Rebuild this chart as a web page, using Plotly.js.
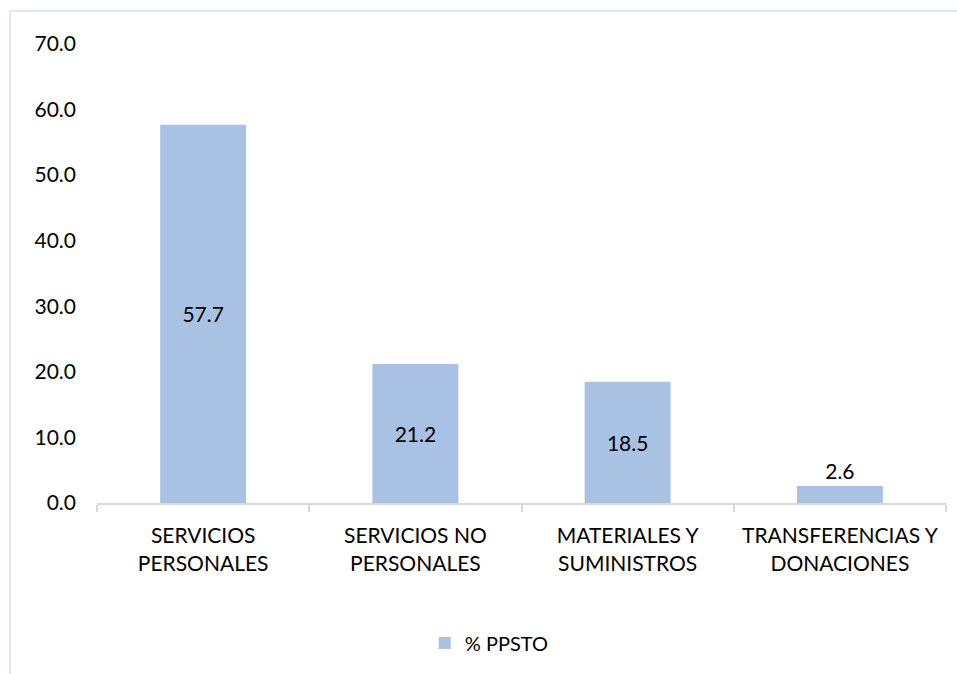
<!DOCTYPE html>
<html>
<head>
<meta charset="utf-8">
<script src="https://cdn.plot.ly/plotly-3.0.1.min.js"></script>
<style>
html,body{margin:0;padding:0;background:#fff;}
#frame{position:absolute;left:9px;top:10px;width:960px;height:680px;border-left:2px solid #e3e7ee;border-top:2px solid #e3e7ee;}
#chart{position:absolute;left:0;top:0;width:957px;height:674px;}
</style>
</head>
<body>
<div id="frame"></div>
<div id="chart"></div>
<script>
const categories = ["SERVICIOS<br>PERSONALES", "SERVICIOS NO<br>PERSONALES", "MATERIALES Y<br>SUMINISTROS", "TRANSFERENCIAS Y<br>DONACIONES"];
const values = [57.7, 21.2, 18.5, 2.6];
const seriesName = "% PPSTO";
const yTicks = [0, 10, 20, 30, 40, 50, 60, 70];

const FONT = "Lato, 'Open Sans', sans-serif";

const trace = {
  type: "bar",
  x: categories,
  y: values,
  name: seriesName,
  text: values.map(v => v.toFixed(1)),
  textposition: values.map(v => v > 5 ? "inside" : "outside"),
  insidetextanchor: "middle",
  textfont: {family: FONT, size: 21, color: "#000"},
  insidetextfont: {family: FONT, size: 21, color: "#000"},
  outsidetextfont: {family: FONT, size: 21, color: "#000"},
  cliponaxis: false,
  marker: {color: "#a9c1e3", line: {width: 0}},
  hoverinfo: "none"
};

const layout = {
  width: 957, height: 674,
  paper_bgcolor: "rgba(0,0,0,0)",
  plot_bgcolor: "rgba(0,0,0,0)",
  margin: {l: 97, r: 11, t: 44, b: 171},
  bargap: 0.595,
  showlegend: true,
  font: {family: FONT, size: 20, color: "#000"},
  xaxis: {
    type: "category",
    showline: true, linecolor: "#d9d9d9", linewidth: 2,
    ticks: "outside", tickson: "boundaries", ticklen: 7, tickcolor: "#d9d9d9", tickwidth: 2,
    ticklabelstandoff: 13,
    tickfont: {family: FONT, size: 21, color: "#000"},
    showgrid: false, zeroline: false, fixedrange: true
  },
  yaxis: {
    range: [0, 70],
    tickvals: yTicks,
    ticktext: yTicks.map(v => v.toFixed(1)),
    showgrid: false, zeroline: false, showline: false,
    ticks: "", ticklabelstandoff: 20,
    tickfont: {family: FONT, size: 21, color: "#000"},
    fixedrange: true
  },
  legend: {
    orientation: "h",
    x: 0.462, xanchor: "center",
    y: -0.305, yanchor: "middle",
    font: {family: FONT, size: 20, color: "#000"},
    itemwidth: 30
  }
};

Plotly.newPlot("chart", [trace], layout, {displayModeBar: false, staticPlot: true});
</script>
</body>
</html>
